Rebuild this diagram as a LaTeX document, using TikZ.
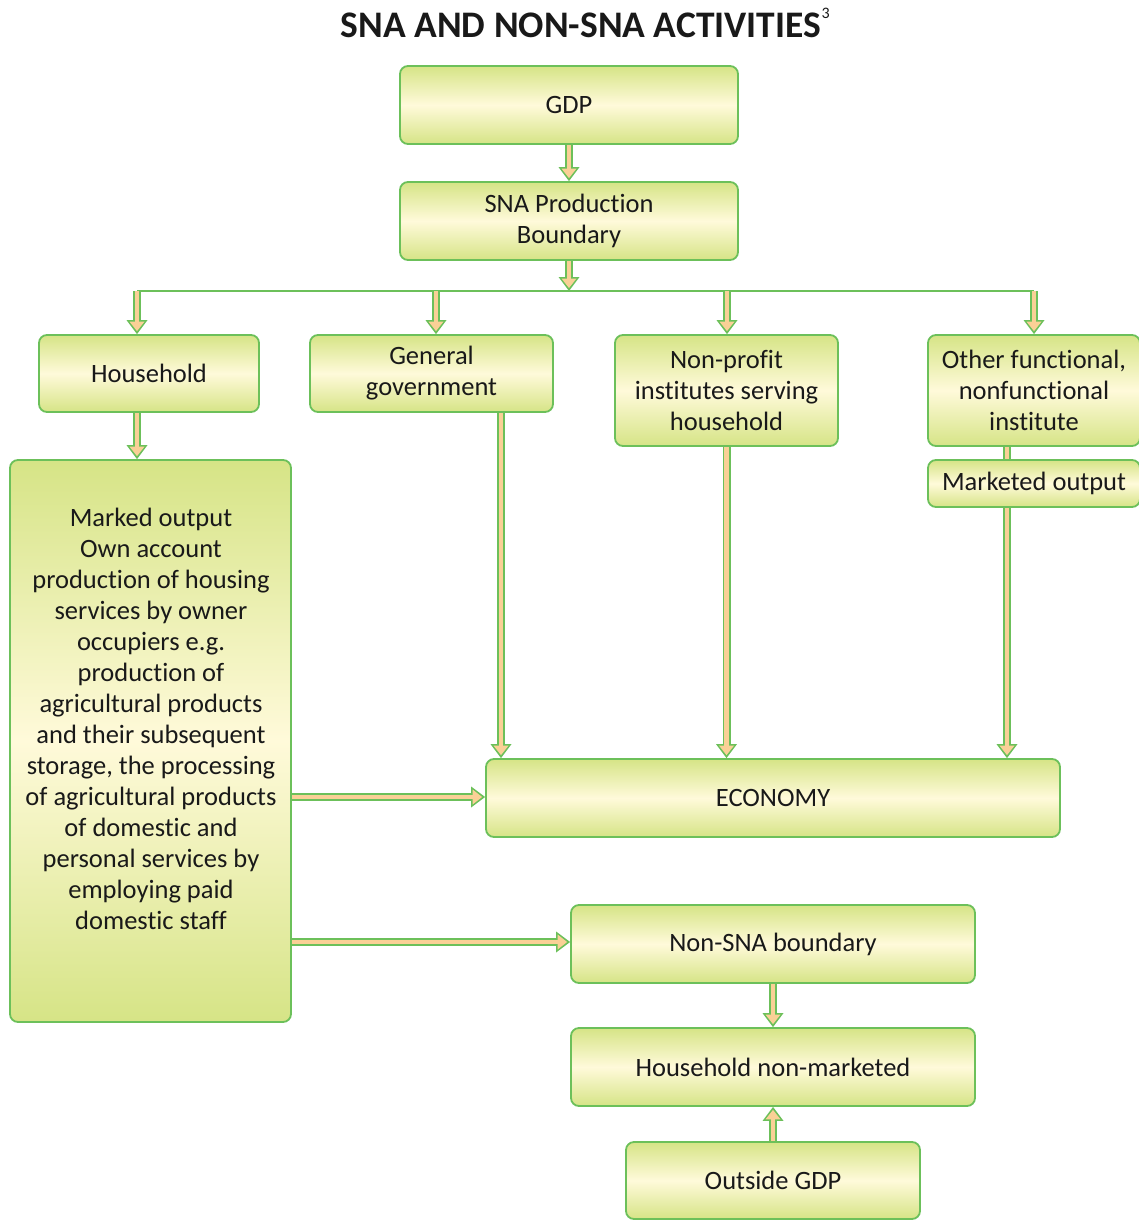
\documentclass[tikz,border=0pt]{standalone}
\usepackage{fontspec}
\setmainfont{Carlito}[Ligatures=NoCommon]
\usetikzlibrary{arrows.meta,shadings,calc}
\definecolor{gborder}{RGB}{108,192,90}
\definecolor{gtop}{RGB}{214,228,134}
\definecolor{gmid}{RGB}{255,250,218}
\definecolor{peach}{RGB}{250,208,150}
\begin{document}
\begin{tikzpicture}[x=1pt,y=-1pt,
  box/.style={draw=gborder, line width=1.8pt, rounded corners=8pt,
    top color=gtop, bottom color=gtop, middle color=gmid,
    align=center, inner sep=0pt, font=\fontsize{26.5}{31}\selectfont, text=black!90},
  barrow/.style={draw=peach, line width=4.4pt,
    -{Triangle[length=9.5pt,width=15pt,line width=0pt,fill=peach]}, shorten >=3pt,
    preaction={draw=gborder, line width=8pt,
      -{Triangle[length=14pt,width=21pt,line width=0pt,fill=gborder]}, shorten >=0pt}},
  bshaft/.style={draw=peach, line width=4.4pt,
    preaction={draw=gborder, line width=8pt}},
  busline/.style={draw=gborder, line width=2pt}
]
\useasboundingbox (0,0) rectangle (1138,1220);

% title
\node[font=\fontsize{37.5}{40}\selectfont\bfseries, text=black!90, inner sep=0pt, anchor=center] (title) at (581,25) {SNA AND NON-SNA ACTIVITIES};
\node[font=\fontsize{16}{16}\selectfont, text=black!90, inner sep=0pt, anchor=west] (sup) at (title.east |- 0,13) {3};

% boxes
\node[box, minimum width=338pt, minimum height=78pt] (gdp) at (569,105) {GDP};
\node[box, minimum width=338pt, minimum height=78pt] (sna) at (569,221) {SNA Production\\Boundary};
\node[box, minimum width=220pt, minimum height=77pt] (hh) at (149,373.5) {Household};
\node[box, minimum width=243pt, minimum height=77pt] (gg) at (431.5,373.5) {General\\government};
\node[box, minimum width=223pt, minimum height=111pt] (np) at (726.5,390.5) {Non-profit\\institutes serving\\household};
\node[box, minimum width=212pt, minimum height=111pt] (oth) at (1034,390.5) {Other functional,\\nonfunctional\\institute};
\node[box, minimum width=212pt, minimum height=47pt] (mk) at (1034,483.5) {Marketed output};
\node[box, minimum width=281pt, minimum height=562pt] (lb) at (150.5,741) {};
\node[align=center, inner sep=0pt, font=\fontsize{26.5}{31}\selectfont, text=black!90] (lbtext) at (151,719)
 {Marked output\\Own account\\production of housing\\services by owner\\occupiers e.g.\\production of\\agricultural products\\and their subsequent\\storage, the processing\\of agricultural products\\of domestic and\\personal services by\\employing paid\\domestic staff};
\node[box, minimum width=574pt, minimum height=78pt] (eco) at (773,798) {ECONOMY};
\node[box, minimum width=404pt, minimum height=78pt] (nsna) at (773,944) {Non-SNA boundary};
\node[box, minimum width=404pt, minimum height=78pt] (hnm) at (773,1067) {Household non-marketed};
\node[box, minimum width=294pt, minimum height=77pt] (ogdp) at (773,1180.5) {Outside GDP};

% bus
\coordinate (bc) at (569,291);
\coordinate (b1) at (137,291);
\coordinate (b2) at (436,291);
\coordinate (b3) at (727,291);
\coordinate (b4) at (1034,291);
\draw[busline] (b1) -- (b4);

% connectors
\draw[barrow] (gdp) -- (sna);
\draw[barrow] (sna) -- (bc);
\draw[barrow] (b1) -- (b1 |- hh.north);
\draw[barrow] (b2) -- (b2 |- gg.north);
\draw[barrow] (b3) -- (b3 |- np.north);
\draw[barrow] (b4) -- (b4 |- oth.north);
\draw[barrow] (b1 |- hh.south) -- (b1 |- lb.north);
\coordinate (xg) at (501,0);
\coordinate (xm) at (1007,0);
\draw[barrow] (xg |- gg.south) -- (xg |- eco.north);
\draw[barrow] (np.south) -- (np.south |- eco.north);
\draw[bshaft] (xm |- oth.south) -- (xm |- mk.north);
\draw[barrow] (xm |- mk.south) -- (xm |- eco.north);
\coordinate (y1) at (0,797);
\coordinate (y2) at (0,942);
\draw[barrow] (lb.east |- y1) -- (eco.west |- y1);
\draw[barrow] (lb.east |- y2) -- (nsna.west |- y2);
\draw[barrow] (nsna) -- (hnm);
\draw[barrow] (ogdp) -- (hnm);
\end{tikzpicture}
\end{document}
